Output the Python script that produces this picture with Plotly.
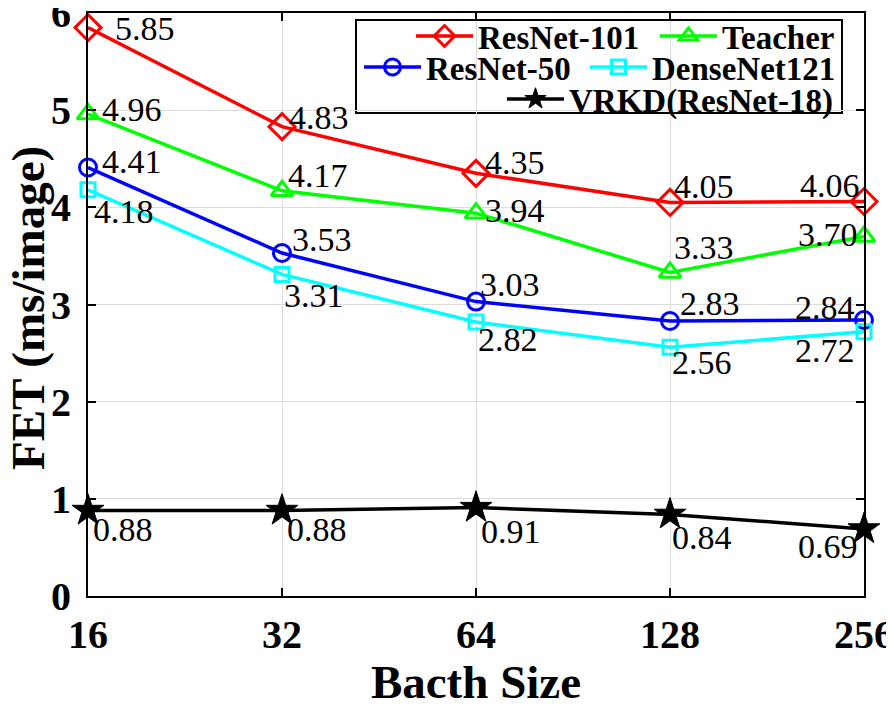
import plotly.graph_objects as go

batch_sizes = ["16", "32", "64", "128", "256"]
resnet101 = [5.85, 4.83, 4.35, 4.05, 4.06]
teacher = [4.96, 4.17, 3.94, 3.33, 3.70]
resnet50 = [4.41, 3.53, 3.03, 2.83, 2.84]
densenet121 = [4.18, 3.31, 2.82, 2.56, 2.72]
vrkd = [0.88, 0.88, 0.91, 0.84, 0.69]
y_ticks = [0, 1, 2, 3, 4, 5, 6]

FONT = "Liberation Serif"

# page offset compensation (body margin) and plot box in page pixels
OFF = 8
PL, PR, PT, PB = 88, 864, 13, 596
PW, PH = PR - PL, PB - PT


def px(xp):
    return (xp - PL) / PW


def py(yp):
    return (PB - yp) / PH


# name, values, color, symbol, size, (legend right edge px, legend row center px)
series = [
    ("ResNet-101", resnet101, "#FF0000", "diamond-open", 20, (645, 36)),
    ("Teacher", teacher, "#00FF00", "triangle-up-open", 19, (840, 36)),
    ("ResNet-50", resnet50, "#0000FF", "circle-open", 17, (576, 67)),
    ("DenseNet121", densenet121, "#00FFFF", "square-open", 14, (841, 67)),
    ("VRKD(ResNet-18)", vrkd, "#000000", "star", 24, (838, 99)),
]

# label offsets (pixels) relative to each marker
label_dx = {
    "ResNet-101": [25, 5, 7, 2, -2],
    "Teacher": [12, 4, 7, 2, -4],
    "ResNet-50": [12, 8, 2, 8, -7],
    "DenseNet121": [4, 0, 0, 0, -7],
    "VRKD(ResNet-18)": [3, 3, 3, 0, -4],
}
label_dy = {
    "ResNet-101": [-1, 9, 11, 16, 16],
    "Teacher": [5, 15, 3, 25, 2],
    "ResNet-50": [6, 14, 17, 18, 13],
    "DenseNet121": [-22, -21, -18, -15, -19],
    "VRKD(ResNet-18)": [-19, -19, -24, -23, -18],
}

fig = go.Figure()
annotations = []
legends = {}
for k, (name, vals, color, sym, size, (lx, ly)) in enumerate(series):
    lg = "legend" if k == 0 else f"legend{k + 1}"
    if sym == "star":
        marker = dict(symbol=sym, size=size, color=color, line=dict(color=color, width=1))
    else:
        marker = dict(symbol=sym, size=size, color=color, line=dict(color=color, width=3))
    fig.add_trace(go.Scatter(
        x=batch_sizes, y=vals, name=name, mode="lines+markers",
        line=dict(color=color, width=3.5), marker=marker,
        cliponaxis=False, legend=lg,
    ))
    legends[lg] = dict(
        x=px(lx), y=py(ly), orientation="h", xanchor="right", yanchor="middle",
        bgcolor="rgba(0,0,0,0)", borderwidth=0,
        font=dict(family=FONT, size=33, color="black", weight="bold"),
        itemwidth=57,
    )
    n = len(vals)
    for i, v in enumerate(vals):
        annotations.append(dict(
            x=i, y=v, xref="x", yref="y", text=f"{v:.2f}", showarrow=False,
            xanchor="right" if i == n - 1 else "left", yanchor="middle",
            xshift=label_dx[name][i], yshift=label_dy[name][i],
            font=dict(family=FONT, size=34, color="black"),
        ))

# y-axis title as a rotated annotation (placed closer to the page edge)
annotations.append(dict(
    text="FET (ms/image)", xref="paper", yref="paper", x=px(28), y=py(308),
    xanchor="center", yanchor="middle", textangle=-90, showarrow=False,
    font=dict(family=FONT, size=47, color="black", weight="bold"),
))

fig.update_layout(
    width=894 - OFF, height=708 - OFF,
    margin=dict(l=PL - OFF, r=894 - PR, t=PT - OFF, b=708 - PB, autoexpand=False),
    plot_bgcolor="white", paper_bgcolor="white",
    font=dict(family=FONT, color="black"),
    showlegend=True,
    annotations=annotations,
    shapes=[dict(type="rect", xref="paper", yref="paper",
                 x0=px(356), x1=px(842), y0=py(113), y1=py(20),
                 line=dict(color="black", width=2), fillcolor="white", layer="below")],
    **legends,
)
fig.update_xaxes(
    type="category", range=[0, 4], automargin=False,
    showline=True, linecolor="black", linewidth=2, mirror="ticks",
    ticks="inside", ticklen=8, tickcolor="black", tickwidth=2,
    showgrid=True, gridcolor="#dcdcdc", gridwidth=1,
    tickfont=dict(family=FONT, size=40, color="black", weight="bold"),
    ticklabelstandoff=2, ticklabeloverflow="allow",
    title=dict(text="Bacth Size", font=dict(family=FONT, size=47, color="black", weight="bold"), standoff=15),
    zeroline=False,
)
fig.update_yaxes(
    range=[0, 6], tickvals=y_ticks, automargin=False,
    showline=True, linecolor="black", linewidth=2, mirror="ticks",
    ticks="inside", ticklen=8, tickcolor="black", tickwidth=2,
    showgrid=True, gridcolor="#dcdcdc", gridwidth=1,
    tickfont=dict(family=FONT, size=40, color="black", weight="bold"),
    ticklabelstandoff=7, ticklabeloverflow="allow",
    zeroline=False,
)
fig.write_html("out.html")
